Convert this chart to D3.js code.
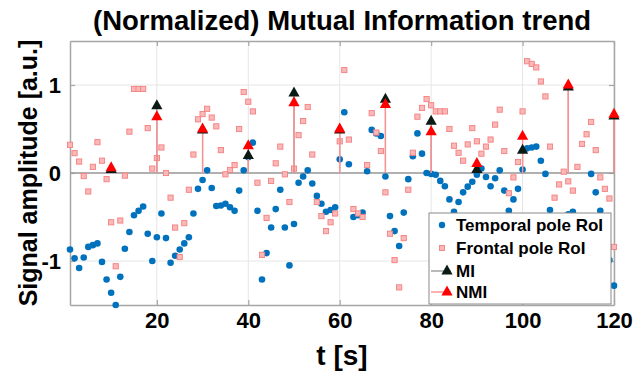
<html>
<head>
<script src="https://d3js.org/d3.v7.min.js"></script>
<style>
  body { margin: 0; background: #fff; }
  text { font-family: "Liberation Sans", Arial, Helvetica, sans-serif; font-weight: bold; }
</style>
</head>
<body>
<div id="chart"></div>
<script>
// time axis (s) for the two RoI traces
var seconds = [1,2,3,4,5,6,7,8,9,10,11,12,13,14,15,16,17,18,19,20,
  21,22,23,24,25,26,27,28,29,30,31,32,33,34,35,36,37,38,39,40,
  41,42,43,44,45,46,47,48,49,50,51,52,53,54,55,56,57,58,59,60,
  61,62,63,64,65,66,67,68,69,70,71,72,73,74,75,76,77,78,79,80,
  81,82,83,84,85,86,87,88,89,90,91,92,93,94,95,96,97,98,99,100,
  101,102,103,104,105,106,107,108,109,110,111,112,113,114,115,116,117,118,119,120];

var temporal = [-0.87,-0.97,-1.08,-0.96,-0.84,-0.82,-0.80,-1.01,-1.21,-1.36,
  -1.50,-1.18,-0.86,-0.67,-0.48,-0.43,-0.38,-0.69,-1.00,-0.73,
  -0.46,-0.74,-1.02,-0.94,-0.87,-0.80,-0.73,-0.46,-0.18,-0.08,
  0.03,-0.17,-0.375,-0.37,-0.35,-0.39,-0.43,-0.20,0.03,0.18,
  0.345,-0.43,-1.21,-0.91,-0.62,-0.41,-0.19,-0.62,-1.05,-0.58,
  -0.11,-0.04,0.03,-0.12,-0.26,-0.35,-0.44,-0.42,-0.39,0.155,
  0.69,0.10,-0.50,-0.48,-0.45,0.02,0.49,0.45,0.42,-0.04,
  -0.49,-0.66,-0.83,-0.45,-0.07,0.19,0.45,0.22,0.00,-0.01,
  -0.02,-0.09,-0.15,-0.30,-0.44,-0.33,-0.22,-0.155,-0.10,-0.02,
  0.05,-0.045,-0.15,-0.06,0.03,-0.20,-0.43,-0.30,-0.18,0.04,
  0.28,0.29,0.30,0.14,-0.01,-0.42,-0.62,-0.85,-0.70,-0.47,
  -0.44,-0.60,-0.75,-0.62,-0.01,-0.22,-0.43,-0.70,-0.99,-1.28];

var frontal = [0.32,0.225,0.13,-0.035,-0.21,0.07,0.35,0.14,-0.07,-0.56,
  -1.06,-0.54,-0.03,0.47,0.955,0.955,0.955,0.51,0.05,0.17,
  0.29,0.0,-0.28,-0.62,-0.955,-0.57,-0.19,0.21,0.61,0.67,
  0.73,0.63,0.53,0.26,-0.015,0.035,0.09,0.50,0.92,0.81,
  0.70,-0.11,-0.93,-0.51,-0.09,0.11,0.30,-0.015,-0.33,0.05,
  0.43,0.59,0.75,0.21,-0.33,-0.49,-0.66,-0.56,-0.46,0.36,
  1.17,0.38,-0.41,-0.46,-0.50,0.09,0.68,0.46,0.25,-0.22,
  -0.69,-0.99,-1.30,-0.74,-0.19,0.23,0.64,0.74,0.84,0.77,
  0.70,0.70,0.70,0.50,0.31,0.23,0.14,0.325,0.51,0.36,
  0.22,0.30,0.38,0.55,0.72,0.25,-0.23,-0.05,0.125,0.70,
  1.27,1.24,1.20,1.04,0.87,0.30,-0.28,-0.13,0.015,-0.095,
  -0.20,0.07,0.33,0.44,0.58,0.26,-0.05,-0.18,-0.29,-0.84];

// one MI / NMI value every 10 s
var windows = [10,20,30,40,50,60,70,80,90,100,110,120];
var mi  = [0.05,0.775,0.50,0.21,0.92,0.50,0.85,0.60,0.05,0.27,0.99,0.66];
var nmi = [0.07,0.65,0.51,0.32,0.81,0.51,0.79,0.48,0.12,0.43,1.01,0.68];

var xTicks = [20,40,60,80,100,120];
var yTicks = [-1,0,1];
var legendLabels = ["Temporal pole RoI","Frontal pole RoI","MI","NMI"];

var width = 635, height = 375;
var margin = {top: 41, right: 21, bottom: 70, left: 70};
var plotW = width - margin.left - margin.right,
    plotH = height - margin.top - margin.bottom;

var svg = d3.select("#chart").append("svg")
    .attr("width", width)
    .attr("height", height);

var xScale = d3.scaleLinear().domain([1, 120]).range([margin.left, margin.left + plotW]);
var yScale = d3.scaleLinear().domain([-1.5, 1.5]).range([margin.top + plotH, margin.top]);

var axisColor = "#a6a6a6";

// grid
svg.append("g")
    .selectAll("line.vg").data(xTicks).enter().append("line")
    .attr("x1", function(d) { return xScale(d); })
    .attr("x2", function(d) { return xScale(d); })
    .attr("y1", margin.top).attr("y2", margin.top + plotH)
    .attr("stroke", "#e6e6e6").attr("stroke-width", 1);
svg.append("g")
    .selectAll("line.hg").data(yTicks).enter().append("line")
    .attr("x1", margin.left).attr("x2", margin.left + plotW)
    .attr("y1", function(d) { return yScale(d); })
    .attr("y2", function(d) { return yScale(d); })
    .attr("stroke", "#e6e6e6").attr("stroke-width", 1);

// axes (ticks point inward, box on all four sides)
function styleAxis(g) {
    g.selectAll(".domain").attr("stroke", axisColor).attr("stroke-width", 1.5);
    g.selectAll(".tick line").attr("stroke", axisColor).attr("stroke-width", 1.2);
    g.selectAll("text").attr("fill", "#000").attr("font-size", 22)
        .attr("font-family", "Liberation Sans, Arial, sans-serif").attr("font-weight", "bold");
}
svg.append("g")
    .attr("transform", "translate(0," + (margin.top + plotH) + ")")
    .call(d3.axisBottom(xScale).tickValues(xTicks).tickSizeInner(-5).tickSizeOuter(0).tickPadding(7))
    .call(styleAxis);
svg.append("g")
    .attr("transform", "translate(0," + margin.top + ")")
    .call(d3.axisTop(xScale).tickValues(xTicks).tickSizeInner(-5).tickSizeOuter(0).tickFormat(""))
    .call(styleAxis);
svg.append("g")
    .attr("transform", "translate(" + margin.left + ",0)")
    .call(d3.axisLeft(yScale).tickValues(yTicks).tickSizeInner(-5).tickSizeOuter(0).tickPadding(9)
        .tickFormat(function(d) { return d < 0 ? "-" + Math.abs(d) : d; }))
    .call(styleAxis);
svg.append("g")
    .attr("transform", "translate(" + (margin.left + plotW) + ",0)")
    .call(d3.axisRight(yScale).tickValues(yTicks).tickSizeInner(-5).tickSizeOuter(0).tickFormat(""))
    .call(styleAxis);

// stem baseline
svg.append("line")
    .attr("x1", margin.left).attr("x2", margin.left + plotW)
    .attr("y1", yScale(0)).attr("y2", yScale(0))
    .attr("stroke", "#9a9a9a").attr("stroke-width", 1.4);

// temporal pole
svg.append("g").selectAll("circle")
    .data(seconds).enter().append("circle")
    .attr("cx", function(d) { return xScale(d); })
    .attr("cy", function(d, i) { return yScale(temporal[i]); })
    .attr("r", 3.3)
    .attr("fill", "#0072bd");

// frontal pole
svg.append("g").selectAll("rect")
    .data(seconds).enter().append("rect")
    .attr("x", function(d) { return xScale(d) - 2.6; })
    .attr("y", function(d, i) { return yScale(frontal[i]) - 2.6; })
    .attr("width", 5.2).attr("height", 5.2)
    .attr("fill", "#fbb8b8")
    .attr("stroke", "#f48080").attr("stroke-width", 0.9);

// stems
svg.append("g").selectAll("line")
    .data(windows).enter().append("line")
    .attr("x1", function(d) { return xScale(d); })
    .attr("x2", function(d) { return xScale(d); })
    .attr("y1", yScale(0))
    .attr("y2", function(d, i) { return yScale(mi[i]); })
    .attr("stroke", "#8c8c8c").attr("stroke-width", 1.2);
svg.append("g").selectAll("line")
    .data(windows).enter().append("line")
    .attr("x1", function(d) { return xScale(d); })
    .attr("x2", function(d) { return xScale(d); })
    .attr("y1", yScale(0))
    .attr("y2", function(d, i) { return yScale(nmi[i]); })
    .attr("stroke", "#ff9090").attr("stroke-width", 1.4);

var tri = "M0,-5.5L5.6,4.5L-5.6,4.5Z";
svg.append("g").selectAll("path")
    .data(windows).enter().append("path")
    .attr("d", tri)
    .attr("transform", function(d, i) { return "translate(" + xScale(d) + "," + yScale(mi[i]) + ")"; })
    .attr("fill", "#0b1a14");
svg.append("g").selectAll("path")
    .data(windows).enter().append("path")
    .attr("d", tri)
    .attr("transform", function(d, i) { return "translate(" + xScale(d) + "," + yScale(nmi[i]) + ")"; })
    .attr("fill", "#ff0000");

// labels
svg.append("text")
    .attr("x", margin.left + plotW / 2).attr("y", 30)
    .attr("text-anchor", "middle").attr("font-size", 27.5)
    .text("(Normalized) Mutual Information trend");
svg.append("text")
    .attr("x", margin.left + plotW / 2).attr("y", 365)
    .attr("text-anchor", "middle").attr("font-size", 28)
    .text("t [s]");
svg.append("text")
    .attr("transform", "translate(37," + (margin.top + plotH / 2) + ") rotate(-90)")
    .attr("text-anchor", "middle").attr("font-size", 25)
    .text("Signal amplitude [a.u.]");

// legend
var lg = svg.append("g").attr("transform", "translate(429,213)");
lg.append("rect").attr("width", 182).attr("height", 91)
    .attr("fill", "#fff").attr("stroke", "#8a8a8a").attr("stroke-width", 1);
var rowY = [12, 35, 58, 79];
lg.append("circle").attr("cx", 13).attr("cy", rowY[0]).attr("r", 3.2).attr("fill", "#0072bd");
lg.append("rect").attr("x", 10.5).attr("y", rowY[1] - 2.5).attr("width", 5).attr("height", 5)
    .attr("fill", "#fbb8b8").attr("stroke", "#f48080").attr("stroke-width", 0.9);
lg.append("line").attr("x1", 2).attr("x2", 22).attr("y1", rowY[2]).attr("y2", rowY[2])
    .attr("stroke", "#8c8c8c").attr("stroke-width", 1.2);
lg.append("path").attr("d", tri).attr("transform", "translate(18," + (rowY[2] - 1) + ")").attr("fill", "#0b1a14");
lg.append("line").attr("x1", 2).attr("x2", 22).attr("y1", rowY[3]).attr("y2", rowY[3])
    .attr("stroke", "#ff9090").attr("stroke-width", 1.4);
lg.append("path").attr("d", tri).attr("transform", "translate(18," + (rowY[3] - 1) + ")").attr("fill", "#ff0000");
lg.selectAll("text.lab").data(legendLabels).enter().append("text")
    .attr("x", 27)
    .attr("y", function(d, i) { return rowY[i] + 6; })
    .attr("font-size", 17)
    .text(function(d) { return d; });
</script>
</body>
</html>
